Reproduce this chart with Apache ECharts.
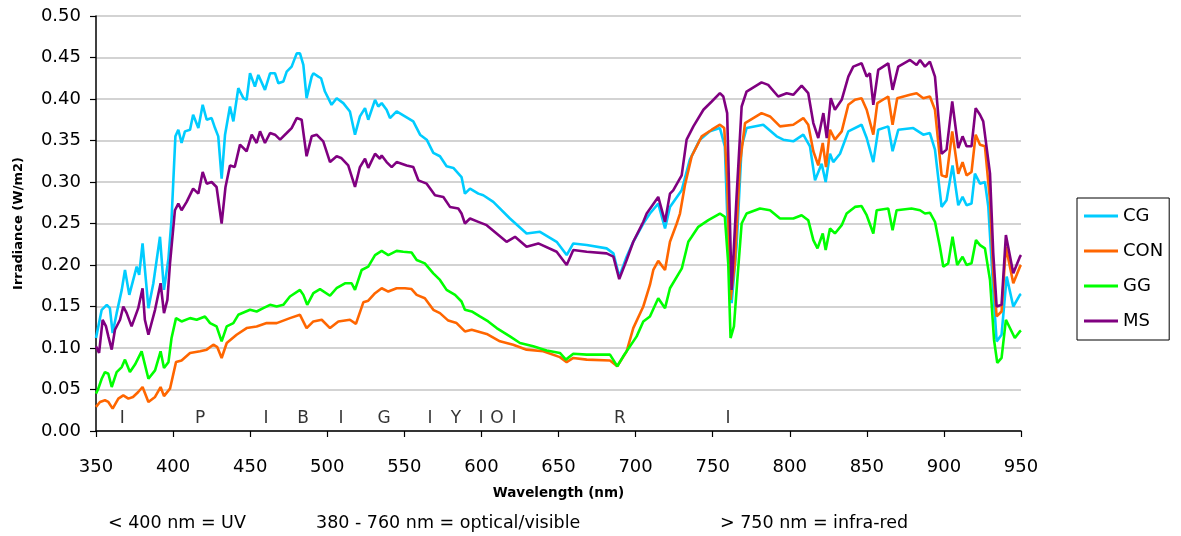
<!doctype html>
<html>
<head>
<meta charset="utf-8">
<title>Irradiance</title>
<script src="https://cdn.jsdelivr.net/npm/echarts@6/dist/echarts.min.js"></script>
<style>
    html,body{
        margin: 0;
        padding: 0;
        background: #fff;
    }
    #chart{
        width: 1181px;
        height: 536px;
    }
</style>
</head>
<body>
<div id="chart"></div>
<script>
    // wavelength (nm) / irradiance (W/m2)
    var cgNm = [350,353.7,357,359,360.8,363.4,366.7,368.8,371.6,376.4,
        378,380.2,384,387.2,391.5,394.1,397,399,401.5,403.4,
        405.5,407.7,411,413,416.4,419.2,421.8,425,427.2,429.3,
        431.5,433.7,436.9,439.1,442.3,445.6,447.7,449.9,453.1,455.3,
        459.6,462.9,466.1,468.3,471.5,473.7,476.9,480.2,482.3,484.5,
        486.6,489.9,491,494.2,496,498.5,502.8,506.1,510.4,514.7,
        518,521.2,524.5,526.6,531,533.1,535.3,538.5,540.7,545,
        550.4,555.8,560.2,564.5,568.8,573.1,577.4,581.8,587.1,589.3,
        592.6,598,601.2,607.7,618.5,629.3,638,648.8,655.3,659.6,
        668.3,681.2,685.6,689.4,694.2,698.5,705,709.3,714.7,719.1,
        722.3,729.9,735.2,741.7,748.2,754.7,757.9,759.4,762.3,765.5,
        768.8,772,782.8,791.5,795.8,802.3,808.8,813.1,816.4,820.7,
        823.3,826.1,828.2,832.6,838,846.6,849.9,854.2,857.4,863.9,
        866.7,870.4,880.1,886.6,890.9,894.2,898.5,901.7,905.6,909.3,
        912.1,914.7,917.9,920.1,923.4,926.6,928.8,932,934.2,937.4,
        940.7,945,949.3,950];
    var cgVal = [.112,.146,.152,.148,.118,.142,.170,.194,.164,.198,
        .188,.226,.148,.178,.234,.170,.208,.255,.355,.363,
        .347,.361,.363,.381,.365,.393,.375,.377,.365,.355,
        .304,.357,.391,.373,.413,.401,.399,.431,.415,.429,
        .411,.431,.431,.419,.421,.433,.439,.455,.455,.441,
        .401,.427,.431,.427,.425,.409,.393,.401,.395,.385,
        .357,.379,.389,.375,.399,.391,.395,.387,.377,.385,
        .379,.373,.357,.351,.335,.331,.319,.317,.306,.286,
        .292,.286,.284,.276,.256,.238,.240,.228,.212,.226,
        .224,.220,.214,.186,.210,.228,.250,.262,.274,.244,
        .270,.290,.327,.351,.361,.365,.343,.262,.154,.222,
        .343,.365,.369,.355,.351,.349,.357,.343,.302,.322,
        .300,.334,.324,.334,.361,.369,.353,.324,.363,.367,
        .337,.363,.365,.357,.359,.339,.270,.278,.320,.272,
        .282,.272,.274,.310,.298,.300,.270,.170,.108,.116,
        .186,.150,.164,.165];

    var conNm = [350,352.6,355.8,358,360.8,364.5,367.7,371,374,377.4,
        380.2,384,388.3,391.9,394.1,398,401.9,405.5,411,417.5,
        421.8,426.1,428.7,431.5,434.8,441.2,447.7,454.2,460.7,467.2,
        475.8,482.3,486.6,491,496.4,501.8,507.2,514.7,518.6,523.4,
        526.6,531,535.3,539.6,545,550.4,554.7,558,563.3,568.8,
        573.1,578.5,583.9,589.3,593.7,603.4,612,620.6,629.3,640.1,
        650.9,655.3,659.6,668.3,683.4,688.1,694.2,698.5,705,709.3,
        711.5,714.7,719.1,722.3,726.7,728.8,732,736.4,742.9,749.4,
        754.7,757.5,759.4,761.6,764.4,767.7,771,781.7,787.2,793.7,
        802.3,808.8,812,815.3,818.5,821.4,823.5,826.1,829.3,833.7,
        838,842.3,846.6,849.9,854.2,856.8,863.9,866.7,869.7,878,
        882.3,886.6,890.9,894.2,898.5,901.7,905.4,909.3,912.1,914.7,
        917.9,920.6,923.4,926.6,929.9,932,934.2,937.4,940.2,945,
        949.3,950];
    var conVal = [.029,.035,.037,.035,.027,.039,.043,.039,.041,.047,
        .053,.035,.041,.053,.042,.051,.083,.085,.094,.096,
        .098,.104,.101,.088,.106,.116,.124,.126,.130,.130,
        .136,.140,.124,.132,.134,.124,.132,.134,.129,.155,
        .157,.166,.172,.168,.172,.172,.171,.164,.160,.146,
        .142,.133,.130,.120,.122,.117,.108,.104,.098,.096,
        .089,.083,.088,.086,.085,.078,.096,.124,.150,.176,
        .194,.205,.194,.228,.250,.262,.296,.331,.355,.363,
        .369,.365,.302,.158,.202,.322,.371,.383,.379,.367,
        .369,.377,.369,.337,.320,.347,.318,.363,.351,.361,
        .393,.399,.401,.387,.357,.395,.403,.369,.401,.405,
        .407,.401,.403,.387,.308,.306,.361,.310,.324,.308,
        .312,.357,.345,.343,.278,.190,.138,.144,.222,.178,
        .198,.200];

    var ggNm = [350,351.5,353.7,355.8,358,360.2,363.4,366.7,368.8,372,
        375.3,379.6,384,388.3,391.9,394.1,397,399,401.9,405.5,
        411,415.3,420.7,424,428.2,431.5,434.8,439.1,442.3,449.9,
        454.2,458.5,462.9,467.2,471.5,475.8,482.3,484.5,487,491,
        495.3,501.8,506,511.5,515.8,518,522.3,526.6,531,535.3,
        539.6,545,549.3,554.7,558,563.3,568.8,573.1,577.4,582.9,
        587.1,589.3,593.7,599,604.4,609.9,618.5,625,633.6,642.3,
        650.9,654.8,659.6,668.3,683.4,688.1,692,700.7,705,709.3,
        714.7,719.1,722.3,730,734.2,736.4,740.7,747.2,754.7,757.9,
        760.1,761.6,763.8,766,768.8,772,780.7,787.2,793.7,802.3,
        807.7,812,815.3,818,821.4,823.3,826.1,829.3,833.7,836.9,
        842.3,846.6,849.9,854.2,856.4,863.9,866.7,869.3,879,884.5,
        887.7,890.9,894.2,897.4,899.6,902.8,905.6,908.6,912.1,914.7,
        917.9,920.8,923.4,926.6,929.9,932.5,934.6,937.4,940.2,946,
        949.3,950];
    var ggVal = [.045,.051,.063,.071,.069,.053,.071,.077,.086,.071,
        .080,.096,.063,.073,.096,.076,.083,.112,.136,.132,
        .136,.134,.138,.130,.126,.108,.126,.130,.140,.146,
        .144,.148,.152,.150,.152,.162,.170,.164,.152,.166,
        .171,.163,.172,.178,.178,.170,.194,.198,.212,.217,
        .212,.217,.216,.215,.206,.202,.190,.182,.170,.164,
        .156,.146,.144,.138,.132,.124,.114,.106,.102,.097,
        .094,.086,.093,.092,.092,.078,.090,.114,.132,.138,
        .160,.148,.172,.196,.228,.234,.246,.254,.262,.258,
        .202,.112,.126,.182,.250,.262,.268,.266,.256,.256,
        .260,.254,.230,.220,.238,.218,.244,.238,.248,.262,
        .270,.271,.260,.238,.266,.268,.242,.266,.268,.266,
        .262,.263,.252,.222,.198,.202,.234,.200,.210,.200,
        .202,.230,.224,.220,.182,.110,.082,.088,.134,.112,
        .120,.121];

    var msNm = [350,352,354.3,356.5,358,360.2,362.3,365.6,367.7,369.9,
        373.1,377.4,380.2,381.7,384,388.3,391.9,394.1,396.3,398,
        401.2,403.4,405.5,408.8,413,416.4,419.2,421.8,425,428.2,
        431.5,434,436.9,440,443.4,447.7,451,454.2,456.4,459.6,
        462.9,466.1,469.4,473.7,476.9,480.2,483.4,486.6,489.9,493.1,
        497.4,501.8,506.1,509,513.6,518,521.2,524.5,526.6,531,
        534.2,535.3,538.5,541.8,545,551.5,555.8,559.1,564.5,569.9,
        575.3,579.6,585,587.1,589.3,592.6,598,603.4,616.3,621.8,
        629.3,636.9,648.8,655.3,659.6,668.3,681.2,685.6,689.4,694.2,
        698.5,705,707.2,714.7,719.1,722.3,724.4,729.9,733.1,737.5,
        744,749.4,754.7,756.9,759.4,762.3,765.5,768.8,772,781.7,
        786,792.5,798,802.3,807.7,812,815.3,818.5,821.8,824,
        826.6,829.3,833.7,838,841.2,846.6,849.9,852,854.2,857.4,
        863.9,866.7,870.4,878,882.3,884.5,887.7,890.9,894.2,898.5,
        901.7,905.4,909.3,912.1,914.7,917.9,920.6,923.4,925.5,929.9,
        932,934.2,937.4,940.2,945,949.3,950];
    var msVal = [.102,.094,.134,.126,.114,.098,.122,.134,.150,.142,
        .126,.148,.172,.134,.116,.146,.178,.142,.158,.202,
        .266,.274,.266,.276,.292,.286,.312,.298,.300,.294,
        .250,.294,.320,.318,.345,.337,.357,.347,.361,.347,
        .359,.357,.351,.359,.365,.377,.375,.331,.355,.357,
        .349,.324,.331,.329,.320,.294,.318,.328,.317,.334,
        .328,.332,.324,.318,.324,.320,.318,.302,.298,.284,
        .282,.270,.268,.262,.250,.256,.252,.248,.228,.234,
        .222,.226,.216,.200,.218,.216,.214,.210,.183,.206,
        .228,.252,.262,.282,.252,.286,.290,.308,.351,.367,
        .387,.397,.407,.403,.383,.170,.282,.391,.409,.420,
        .417,.403,.407,.405,.416,.407,.371,.353,.383,.353,
        .401,.387,.399,.427,.439,.443,.427,.431,.393,.435,
        .443,.411,.439,.447,.441,.447,.439,.445,.427,.334,
        .339,.397,.341,.355,.343,.343,.389,.381,.373,.310,
        .214,.150,.152,.236,.190,.210,.212];

    // colour bands written along the bottom of the plot
    var bandLabels = ['I','P','I','B','I','G','I','Y','I','O','I','R','I'];
    var bandNm = [367,417.5,460.3,484.3,508.9,536.8,566.6,583.5,599.7,610.1,621.1,689.9,759.9];
    var bandLevel = 0.0145;

    var seriesNames = ['CG','CON','GG','MS'];
    var seriesColors = ['#00ccff','#ff6600','#00ff00','#800080'];

    function pairs(nm, val){
        var out = [];
        for(var i = 0; i < nm.length && i < val.length; i++){
            out.push([nm[i], val[i]]);
        }
        return out;
    }

    var lineData = [pairs(cgNm, cgVal), pairs(conNm, conVal), pairs(ggNm, ggVal), pairs(msNm, msVal)];

    var series = [];
    for(var s = 0; s < seriesNames.length; s++){
        series.push({
            name: seriesNames[s],
            type: 'line',
            showSymbol: false,
            symbol: 'none',
            color: seriesColors[s],
            lineStyle: {width: 2.6, color: seriesColors[s]},
            data: lineData[s]
        });
    }

    var bandData = [];
    for(var b = 0; b < bandLabels.length; b++){
        bandData.push({name: bandLabels[b], value: [bandNm[b], bandLevel]});
    }
    series.push({
        name: 'bands',
        type: 'scatter',
        symbolSize: 0,
        silent: true,
        label: {
            show: true,
            position: 'inside',
            formatter: '{b}',
            color: '#000',
            fontFamily: 'DejaVu Sans',
            fontSize: 17
        },
        data: bandData
    });

    var font = 'DejaVu Sans';
    var noteFont = '17.5px "DejaVu Sans"';

    var option = {
        animation: false,
        backgroundColor: '#fff',
        grid: {left: 96, right: 160, top: 16, bottom: 105},
        legend: {
            data: seriesNames,
            orient: 'vertical',
            left: 1077,
            top: 198,
            borderColor: '#000',
            borderWidth: 1,
            padding: [8, 6, 9, 7],
            itemGap: 15,
            itemWidth: 34,
            itemHeight: 3,
            icon: 'rect',
            textStyle: {fontFamily: font, fontSize: 18, color: '#000', lineHeight: 20}
        },
        xAxis: {
            type: 'value',
            min: 350,
            max: 950,
            interval: 50,
            name: 'Wavelength (nm)',
            nameLocation: 'middle',
            nameGap: 55,
            nameTextStyle: {fontFamily: font, fontSize: 13.5, fontWeight: 'bold', color: '#000'},
            axisLine: {show: true, onZero: false, lineStyle: {color: '#000', width: 1.5}},
            axisTick: {show: true, length: 6, lineStyle: {color: '#000', width: 1.2}},
            axisLabel: {fontFamily: font, fontSize: 18, color: '#000', margin: 27},
            splitLine: {show: false}
        },
        yAxis: {
            type: 'value',
            min: 0,
            max: 0.5,
            interval: 0.05,
            name: 'Irradiance (W/m2)',
            nameLocation: 'middle',
            nameGap: 71,
            nameRotate: 90,
            nameTextStyle: {fontFamily: font, fontSize: 13, fontWeight: 'bold', color: '#000'},
            axisLine: {show: true, lineStyle: {color: '#000', width: 1.5}},
            axisTick: {show: true, length: 6, lineStyle: {color: '#000', width: 1.2}},
            axisLabel: {
                fontFamily: font, fontSize: 18, color: '#000', margin: 15,
                formatter: function(v){ return v.toFixed(2); }
            },
            splitLine: {show: true, lineStyle: {color: '#c4c4c4', width: 1.5}}
        },
        graphic: [
            {type: 'text', left: 108, top: 514, style: {text: '< 400 nm = UV', font: noteFont, fill: '#000'}},
            {type: 'text', left: 316, top: 514, style: {text: '380 - 760 nm = optical/visible', font: noteFont, fill: '#000'}},
            {type: 'text', left: 720, top: 514, style: {text: '> 750 nm = infra-red', font: noteFont, fill: '#000'}}
        ],
        series: series
    };

    var chart = echarts.init(document.getElementById('chart'));
    chart.setOption(option);
</script>
</body>
</html>
